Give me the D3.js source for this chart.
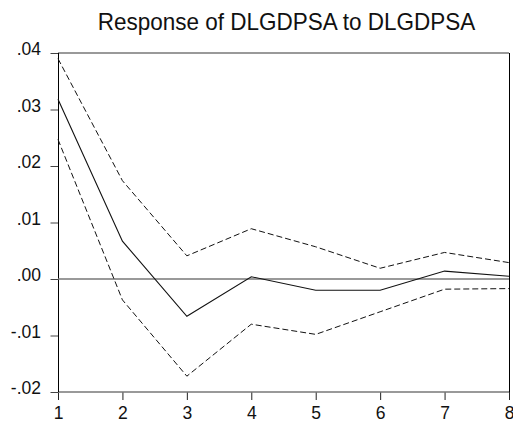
<!DOCTYPE html>
<html>
<head>
<meta charset="utf-8">
<script src="https://cdn.jsdelivr.net/npm/d3@7"></script>
<style>
  body { margin: 0; background: #fff; }
  svg { display: block; font-family: "Liberation Sans", Arial, sans-serif; }
</style>
</head>
<body>
<svg id="chart" width="513" height="425"></svg>
<script>
// horizon periods and impulse response with +/- 2 s.e. bands
let periods  = [1, 2, 3, 4, 5, 6, 7, 8];
let response = [0.0318, 0.0067, -0.0066, 0.0004, -0.0020, -0.0020, 0.0014, 0.0005];
let upper    = [0.0390, 0.0174, 0.0041, 0.0089, 0.0057, 0.0019, 0.0047, 0.0029];
let lower    = [0.0247, -0.0037, -0.0172, -0.0080, -0.0098, -0.0058, -0.0018, -0.0017];

let yTicks = [0.04, 0.03, 0.02, 0.01, 0.00, -0.01, -0.02];
let yTickLabels = [".04", ".03", ".02", ".01", ".00", "-.01", "-.02"];
let title = "Response of DLGDPSA to DLGDPSA";

let svg = d3.select("#chart");

let pLeft = 58, pRight = 509, pTop = 53, pBottom = 392;

let xScale = d3.scaleLinear()
  .domain([1, 8])
  .range([pLeft, pRight]);

let yScale = d3.scaleLinear()
  .domain([-0.02, 0.04])
  .range([pBottom, pTop]);

// title (slightly stretched vertically like the original)
svg.append("text")
  .attr("transform", "translate(" + 286.5 + ",29.5) scale(1,1.08)")
  .attr("text-anchor", "middle")
  .style("font-size", "22.5px")
  .attr("fill", "#111")
  .text(title);

// y axis
let yAxis = svg.append("g")
  .attr("transform", "translate(" + (pLeft + 0.5) + ",0)")
  .call(d3.axisLeft(yScale)
    .tickValues(yTicks)
    .tickFormat((d, i) => yTickLabels[i])
    .tickSize(8)
    .tickPadding(9.5)
    .tickSizeOuter(0));
yAxis.select(".domain").remove();
yAxis.selectAll("line").attr("stroke", "#444");
yAxis.selectAll("text")
  .style("font-size", "17.5px")
  .style("font-family", "'Liberation Sans', Arial, sans-serif")
  .attr("fill", "#111")
  .attr("dy", "0.09em");

// x axis
let xAxis = svg.append("g")
  .attr("transform", "translate(0," + pBottom + ")")
  .call(d3.axisBottom(xScale)
    .tickValues(periods)
    .tickFormat(d3.format("d"))
    .tickSize(8)
    .tickPadding(7)
    .tickSizeOuter(0));
xAxis.select(".domain").remove();
xAxis.selectAll("line").attr("stroke", "#222");
xAxis.selectAll("text")
  .style("font-size", "17.5px")
  .style("font-family", "'Liberation Sans', Arial, sans-serif")
  .attr("fill", "#111");

// frame: horizontal edges grey, vertical edges black
svg.append("line")
  .attr("x1", pLeft).attr("x2", pRight)
  .attr("y1", pTop).attr("y2", pTop)
  .attr("stroke", "#777").attr("stroke-width", 1.6);
svg.append("line")
  .attr("x1", pLeft).attr("x2", pRight)
  .attr("y1", pBottom).attr("y2", pBottom)
  .attr("stroke", "#777").attr("stroke-width", 1.6);
svg.append("line")
  .attr("x1", pLeft + 0.5).attr("x2", pLeft + 0.5)
  .attr("y1", pTop).attr("y2", pBottom)
  .attr("stroke", "#000").attr("stroke-width", 1);
svg.append("line")
  .attr("x1", pRight + 0.5).attr("x2", pRight + 0.5)
  .attr("y1", pTop).attr("y2", pBottom)
  .attr("stroke", "#000").attr("stroke-width", 1);

// zero line
svg.append("line")
  .attr("x1", pLeft).attr("x2", pRight)
  .attr("y1", yScale(0)).attr("y2", yScale(0))
  .attr("stroke", "#777").attr("stroke-width", 1.6);

let line = d3.line()
  .x((d, i) => xScale(periods[i]))
  .y(d => yScale(d));

// confidence bands
[upper, lower].forEach(band => {
  svg.append("path")
    .datum(band)
    .attr("d", line)
    .attr("fill", "none")
    .attr("stroke", "#111")
    .attr("stroke-width", 1)
    .attr("stroke-dasharray", "6,3");
});

// response
svg.append("path")
  .datum(response)
  .attr("d", line)
  .attr("fill", "none")
  .attr("stroke", "#111")
  .attr("stroke-width", 1.1);
</script>
</body>
</html>
